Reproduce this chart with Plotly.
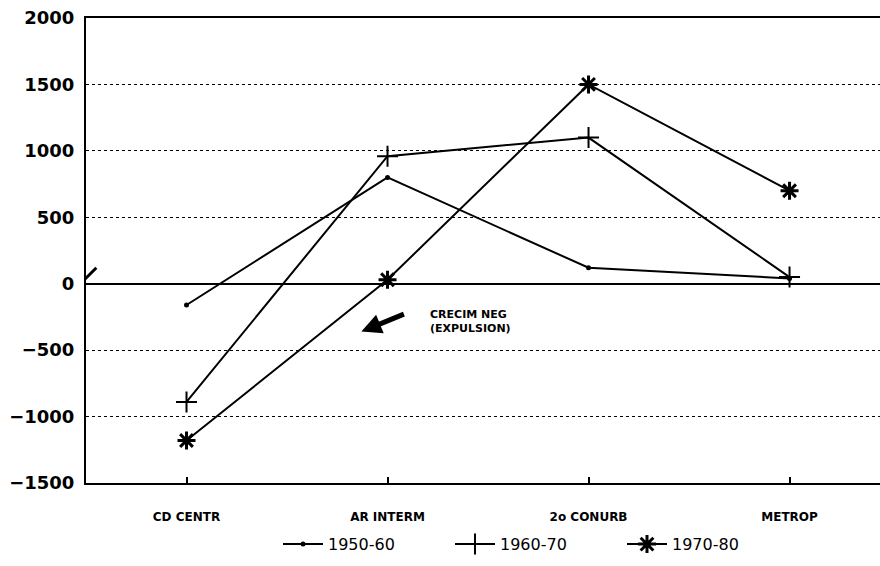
import plotly.graph_objects as go

# Zones of the metropolitan area and net migration by decade
zones = ["CD CENTR", "AR INTERM", "2o CONURB", "METROP"]
series_names = ["1950-60", "1960-70", "1970-80"]
v_1950_60 = [-160, 800, 120, 40]
v_1960_70 = [-890, 960, 1100, 50]
v_1970_80 = [-1180, 30, 1500, 700]
y_ticks = [2000, 1500, 1000, 500, 0, -500, -1000, -1500]

series_values = [v_1950_60, v_1960_70, v_1970_80]
marker_styles = [
    dict(symbol="circle", size=5, color="black"),
    dict(symbol="cross-thin-open", size=15, line=dict(color="black", width=2)),
    dict(symbol="asterisk-open", size=15, line=dict(color="black", width=3)),
]

fig = go.Figure()
for name, vals, mk in zip(series_names, series_values, marker_styles):
    fig.add_trace(go.Scatter(
        x=list(range(len(zones))), y=vals, name=name,
        mode="lines+markers",
        line=dict(color="black", width=2),
        marker=mk,
    ))

# Arrow and note marking negative growth
fig.add_annotation(
    x=0.87, y=-360, xref="x", yref="y",
    ax=44, ay=-18, axref="pixel", ayref="pixel",
    showarrow=True, arrowhead=2, arrowsize=0.8, arrowwidth=5, arrowcolor="black",
    text="",
)
fig.add_annotation(
    x=(428 - 186.5) / 201, y=-170, xref="x", yref="y",
    xanchor="left", yanchor="top", align="left", showarrow=False,
    text="CRECIM NEG<br>(EXPULSION)",
    font=dict(family="DejaVu Sans", size=11, color="black", weight="bold"),
)
# Small pen stroke at the zero line
fig.add_annotation(
    x=0.013, y=120, xref="paper", yref="y",
    ax=-13, ay=13, showarrow=True, arrowhead=0, arrowwidth=3, arrowcolor="black",
    text="",
)

fig.update_layout(
    width=880, height=566,
    margin=dict(l=86, r=0, t=18, b=83, autoexpand=False),
    paper_bgcolor="white", plot_bgcolor="white",
    showlegend=True,
    legend=dict(
        orientation="h", x=(278 - 86) / 794, xanchor="left",
        y=-0.095, yanchor="top",
        entrywidth=117, entrywidthmode="pixels",
        font=dict(family="DejaVu Sans", size=16, color="black"),
        itemwidth=40,
    ),
    xaxis=dict(
        range=[-0.5, 3.45],
        tickmode="array", tickvals=list(range(len(zones))), ticktext=zones,
        ticks="inside", ticklen=6, tickwidth=2, tickcolor="black",
        showline=True, linecolor="black", linewidth=2, mirror=True,
        showgrid=False, zeroline=False,
        ticklabelstandoff=22,
        tickfont=dict(family="DejaVu Sans", size=12, color="black", weight="bold"),
    ),
    yaxis=dict(
        range=[-1500, 2000],
        tickmode="array", tickvals=y_ticks,
        showline=True, linecolor="black", linewidth=2,
        showgrid=True, gridcolor="black", gridwidth=1, griddash="dot",
        zeroline=True, zerolinecolor="black", zerolinewidth=2,
        ticks="", ticklabelstandoff=6,
        tickfont=dict(family="DejaVu Sans", size=18, color="black", weight="bold"),
    ),
)

fig.write_html("out.html")
